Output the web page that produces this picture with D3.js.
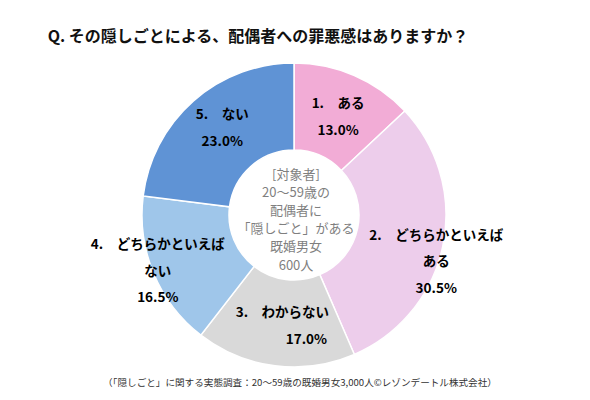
<!DOCTYPE html>
<html><head><meta charset="utf-8">
<script src="https://cdn.jsdelivr.net/npm/d3@7"></script>
<style>
html,body{margin:0;padding:0;background:#fff;}
svg{display:block;font-family:"Noto Sans CJK JP","Noto Sans",sans-serif;}
</style></head>
<body>
<svg id="c" width="590" height="400"></svg>
<script>
// ---- data ----
const categories = ["1.　ある", "2.　どちらかといえば|ある", "3.　わからない", "4.　どちらかといえば|ない", "5.　ない"];
const values = [13.0, 30.5, 17.0, 16.5, 23.0];
const colors = ["#F2ACD6", "#EDCDEB", "#D9D9D9", "#9FC6EA", "#5F93D5"];
const titleText = "Q. その隠しごとによる、配偶者への罪悪感はありますか？";
const centerLines = ["[対象者]", "20～59歳の", "配偶者に", "「隠しごと」がある", "既婚男女", "600人"];
const footerText = "（「隠しごと」に関する実態調査：20～59歳の既婚男女3,000人©レゾンデートル株式会社）";

// ---- layout (not data) ----
const cx = 294, cy = 215, rOuter = 152, rInner = 65;
const labelLayout = [
  {dx: 1, dy: 0, lineDx: [0, 0]},
  {dx: 36, dy: 23, lineDx: [0, 0, 0]},
  {dx: 2, dy: 2, lineDx: [0, 24]},
  {dx: -36, dy: 13, lineDx: [0, 0, 0]},
  {dx: 0, dy: -7, lineDx: [0, 0]}
];

const svg = d3.select("#c");

svg.append("text").attr("x", 258).attr("y", 35)
  .attr("text-anchor", "middle").attr("dominant-baseline", "central")
  .attr("font-size", 16).attr("font-weight", "bold").attr("fill", "#111")
  .text(titleText);

const data = categories.map((c, i) => ({cat: c, value: values[i], color: colors[i]}));
const pie = d3.pie().sort(null).value(d => d.value);
const arc = d3.arc().innerRadius(rInner).outerRadius(rOuter);
const arcs = pie(data);

const g = svg.append("g").attr("transform", `translate(${cx},${cy})`);
g.selectAll("path").data(arcs).enter().append("path")
  .attr("d", arc).attr("fill", d => d.data.color)
  .attr("stroke", "#fff").attr("stroke-width", 1.5);

const lineH = 26.5;
arcs.forEach((a, i) => {
  const [x, y] = arc.centroid(a);
  const lay = labelLayout[i];
  const lines = a.data.cat.split("|").concat([a.data.value.toFixed(1) + "%"]);
  const t = g.append("text").attr("text-anchor", "middle")
    .attr("font-size", 13.5).attr("font-weight", "bold").attr("fill", "#000");
  const y0 = y + lay.dy - (lines.length - 1) * lineH / 2;
  lines.forEach((ln, j) => {
    t.append("tspan").attr("x", x + lay.dx + lay.lineDx[j])
      .attr("y", y0 + j * lineH).attr("dominant-baseline", "central")
      .text(ln);
  });
});

const ct = g.append("text").attr("text-anchor", "middle")
  .attr("font-size", 13).attr("fill", "#7F7F7F");
const ch = 18.2;
centerLines.forEach((ln, j) => {
  ct.append("tspan").attr("x", 2).attr("y", -42 + j * ch)
    .attr("dominant-baseline", "central").text(ln);
});

svg.append("text").attr("x", 300).attr("y", 382)
  .attr("text-anchor", "middle").attr("dominant-baseline", "central")
  .attr("font-size", 9.6).attr("fill", "#333")
  .text(footerText);
</script>
</body></html>
